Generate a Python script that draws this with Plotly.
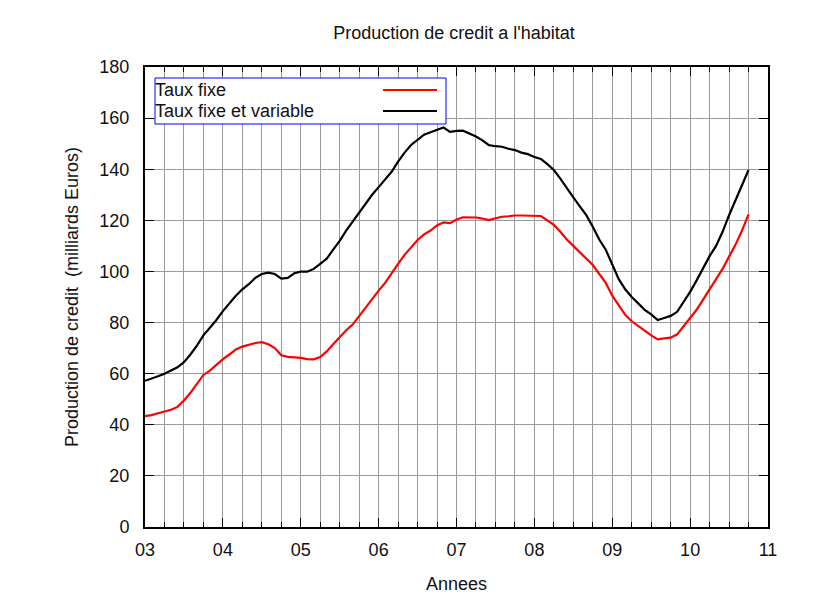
import plotly.graph_objects as go

# Monthly data, Jan 2003 .. Oct 2010 (values in milliards Euros)
start_year = 2003
taux_fixe = [
    43.4, 43.8, 44.5, 45.2, 45.9, 47.0, 49.5, 52.5, 56.0, 59.5, 61.2, 63.5,
    65.7, 67.5, 69.5, 70.6, 71.3, 72.0, 72.3, 71.5, 70.0, 67.2, 66.6, 66.4,
    66.2, 65.7, 65.6, 66.5, 68.7, 71.5, 74.3, 77.0, 79.2, 82.5, 86.0, 89.5,
    92.5, 95.5, 99.5, 103.0, 106.5, 109.5, 112.3, 114.5, 116.0, 118.0, 119.2, 118.9,
    120.3, 121.2, 121.2, 121.1, 120.7, 120.1, 120.8, 121.4, 121.6, 121.9, 121.9, 121.9,
    121.7, 121.7, 120.0, 118.2, 115.5, 112.5, 110.0, 107.5, 105.0, 102.5, 99.0, 95.5,
    90.5, 86.5, 83.0, 80.5, 78.5, 76.8, 75.0, 73.4, 73.8, 74.1, 75.4, 78.5,
    81.5, 85.0, 89.0, 93.0, 97.0, 101.0, 105.8, 110.5, 116.0, 122.3,
]
taux_fixe_variable = [
    57.2, 58.0, 59.0, 60.0, 61.2, 62.5, 64.5, 67.5, 71.0, 75.0, 78.0, 81.0,
    84.5, 87.5, 90.5, 93.0, 95.0, 97.5, 99.0, 99.5, 99.0, 97.2, 97.5, 99.3,
    99.9, 99.9, 101.0, 103.0, 105.0, 108.5, 112.0, 116.0, 119.5, 123.0, 126.5, 130.0,
    133.0, 136.0, 139.0, 143.0, 146.5, 149.5, 151.5, 153.5, 154.5, 155.5, 156.3, 154.6,
    155.0, 155.1, 154.0, 152.8, 151.3, 149.4, 149.0, 148.8, 148.0, 147.5, 146.5, 145.9,
    144.8, 144.0, 142.0, 139.7, 136.3, 132.5, 129.0, 125.5, 122.0, 117.5, 112.5, 108.5,
    103.0, 97.0, 93.0, 90.0, 87.5, 85.0, 83.2, 81.0, 81.8, 82.6, 84.2, 88.0,
    92.0, 96.5, 101.5, 106.0, 110.0, 115.5, 122.0, 128.0, 134.0, 139.7,
]
x_years = [start_year + m / 12 for m in range(len(taux_fixe))]

year_ticks = list(range(2003, 2012))
year_labels = ["03", "04", "05", "06", "07", "08", "09", "10", "11"]
y_ticks = list(range(0, 181, 20))

FONT = "Liberation Sans, Arial, sans-serif"
GRID = "#9a9a9a"
FS = 18

fig = go.Figure()
fig.add_trace(go.Scatter(x=x_years, y=taux_fixe, mode="lines", name="Taux fixe",
                         line=dict(color="#ff0000", width=2.2), showlegend=False))
fig.add_trace(go.Scatter(x=x_years, y=taux_fixe_variable, mode="lines",
                         name="Taux fixe et variable",
                         line=dict(color="#000000", width=2.2), showlegend=False))

fig.update_layout(
    width=840, height=600,
    margin=dict(l=137, r=80, t=59, b=81),
    paper_bgcolor="white", plot_bgcolor="white",
    font=dict(family=FONT, size=FS, color="#111"),
    title=dict(text="Production de credit a l'habitat", x=446 / 840,
               xanchor="center", y=1 - 25 / 600, yanchor="middle",
               font=dict(size=FS, family=FONT, color="#111")),
    xaxis=dict(range=[2003, 2011], tickvals=year_ticks, ticktext=year_labels,
               showgrid=True, gridcolor=GRID, gridwidth=1,
               ticks="inside", ticklen=9, tickwidth=1, tickcolor="black",
               showline=True, linecolor="black", linewidth=2, mirror="allticks",
               zeroline=False, ticklabelstandoff=5,
               minor=dict(dtick=0.25, tick0=2003, showgrid=True, gridcolor=GRID,
                          gridwidth=1, ticks="inside", ticklen=5, tickcolor="black"),
               title=dict(text="Annees", standoff=19, font=dict(size=FS)),
               tickfont=dict(size=FS)),
    yaxis=dict(range=[0, 180], tickvals=y_ticks,
               showgrid=True, gridcolor=GRID, gridwidth=1,
               ticks="inside", ticklen=9, tickwidth=1, tickcolor="black",
               showline=True, linecolor="black", linewidth=2, mirror="allticks",
               zeroline=False, ticklabelstandoff=10,
               title=dict(text="Production de credit  (milliards Euros)", standoff=16,
                          font=dict(size=FS)),
               tickfont=dict(size=FS)),
)

# Legend box in gnuplot style (text left, line sample right)
lx0, lx1 = (155 - 145) / 623, (446 - 145) / 623
ly0, ly1 = (527 - 124) / 460, (527 - 78) / 460
fig.add_shape(type="rect", xref="paper", yref="paper", x0=lx0, x1=lx1, y0=ly0, y1=ly1,
              line=dict(color="#0000ff", width=1), fillcolor="white", layer="above")
entries = [("Taux fixe", "#ff0000", (527 - 90) / 460),
           ("Taux fixe et variable", "#000000", (527 - 111) / 460)]
for text, color, yy in entries:
    fig.add_annotation(xref="paper", yref="paper", x=lx0 - 0.004, y=yy, text=text,
                       showarrow=False, xanchor="left", yanchor="middle",
                       font=dict(size=FS, family=FONT, color="#111"))
    fig.add_shape(type="line", xref="paper", yref="paper",
                  x0=(383 - 145) / 623, x1=(437 - 145) / 623, y0=yy, y1=yy,
                  line=dict(color=color, width=2.2), layer="above")

fig.write_html("out.html")
